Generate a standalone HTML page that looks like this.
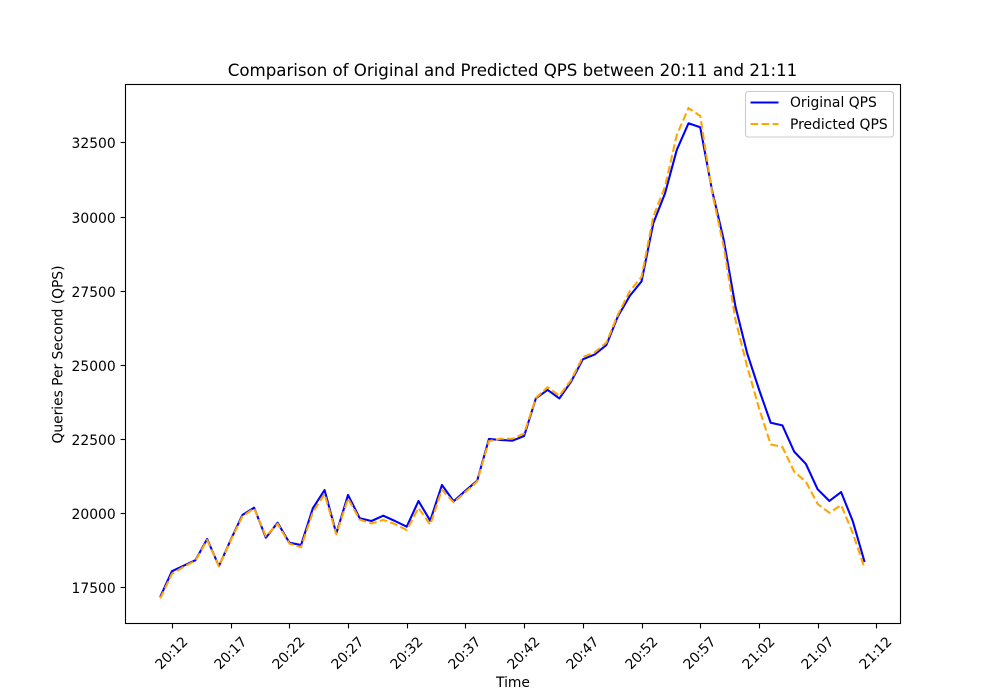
<!DOCTYPE html>
<html>
<head>
<meta charset="utf-8">
<title>Comparison of Original and Predicted QPS</title>
<style>
html,body{margin:0;padding:0;background:#fff;width:1000px;height:700px;overflow:hidden}
svg{display:block}
text{font-family:"DejaVu Sans",sans-serif;fill:#000}
</style>
</head>
<body>
<svg id="chart" xmlns="http://www.w3.org/2000/svg" width="1000" height="700" viewBox="0 0 1000 700">
  <rect x="0" y="0" width="1000" height="700" fill="#fff"/>
  <text x="512.5" y="76" font-size="16.67" text-anchor="middle" textLength="569.5">Comparison of Original and Predicted QPS between 20:11 and 21:11</text>
  <text x="513" y="687" font-size="13.89" text-anchor="middle">Time</text>
  <text x="0" y="0" font-size="13.89" text-anchor="middle" textLength="178" transform="translate(62.5 354.5) rotate(-90)">Queries Per Second (QPS)</text>
  <g id="series"></g>
  <g id="ticks"></g>
  <rect x="125.5" y="84.5" width="775" height="539" fill="none" stroke="#000" stroke-width="1.11"/>
  <g>
    <rect x="745.5" y="91.5" width="148" height="45.5" rx="2.8" fill="#fff" fill-opacity="0.8" stroke="#ccc" stroke-width="1.11"/>
    <line x1="750.5" y1="102.5" x2="778.5" y2="102.5" stroke="#0000ff" stroke-width="2.08"/>
    <text x="790" y="107" font-size="13.89">Original QPS</text>
    <line x1="750.5" y1="124" x2="778.5" y2="124" stroke="#ffa500" stroke-width="2.08" stroke-dasharray="7.7 3.33"/>
    <text x="790" y="129" font-size="13.89">Predicted QPS</text>
  </g>
</svg>
<script>
const minutes = [0,1,2,3,4,5,6,7,8,9,10,11,12,13,14,15,16,17,18,19,20,21,22,23,24,25,26,27,28,29,30,31,32,33,34,35,36,37,38,39,40,41,42,43,44,45,46,47,48,49,50,51,52,53,54,55,56,57,58,59,60];
const originalQps = [17180,18050,18235,18420,19137,18220,19100,19947,20193,19180,19687,19012,18934,20172,20790,19320,20622,19835,19744,19923,19744,19552,20419,19755,20959,20410,20767,21105,22512,22478,22455,22613,23885,24166,23880,24446,25200,25360,25680,26660,27340,27830,29790,30800,32265,33165,33030,30915,29230,26980,25400,24190,23060,22970,22085,21670,20815,20420,20720,19730,18360];
const predictedQps = [17130,17960,18200,18400,19100,18220,19080,19900,20170,19230,19650,18980,18860,20040,20650,19300,20500,19790,19660,19780,19640,19440,20183,19620,20800,20370,20720,21080,22440,22520,22520,22700,23900,24260,23970,24500,25280,25430,25760,26720,27500,27980,30010,31030,32770,33680,33410,30850,29000,26530,24950,23560,22330,22240,21410,21070,20320,20020,20280,19330,18150];
const xTickMinutes = [1,6,11,16,21,26,31,36,41,46,51,56,61];
const xTickLabels = ["20:12","20:17","20:22","20:27","20:32","20:37","20:42","20:47","20:52","20:57","21:02","21:07","21:12"];
const yTickValues = [17500,20000,22500,25000,27500,30000,32500];

const SVG_NS = "http://www.w3.org/2000/svg";
const seriesLayer = document.getElementById("series");
const tickLayer = document.getElementById("ticks");

function xScale(m){ return 160.2 + m * 11.74; }
function yScale(v){ return 587.5 - (v - 17500) * 0.029635; }
function make(tag, attrs){
  const el = document.createElementNS(SVG_NS, tag);
  for (const k in attrs) el.setAttribute(k, attrs[k]);
  return el;
}
function pathFor(values){
  return values.map(function(v, i){
    return (i ? "L" : "M") + xScale(minutes[i]).toFixed(2) + " " + yScale(v).toFixed(2);
  }).join(" ");
}

const originalLine = make("path", {d: pathFor(originalQps), fill: "none", stroke: "#0000ff", "stroke-width": 2.08, "stroke-linejoin": "round"});


seriesLayer.appendChild(originalLine);

const predictedLine = make("path", {d: pathFor(predictedQps), fill: "none", stroke: "#ffa500", "stroke-width": 2.08, "stroke-dasharray": "7.7 3.33", "stroke-linejoin": "round"});


seriesLayer.appendChild(predictedLine);

xTickMinutes.forEach(function(m, i){
  const x = Math.round(xScale(m)) + 0.5;
  const mark = make("line", {x1: x, y1: 623.5, x2: x, y2: 628.4, stroke: "#000", "stroke-width": 1.11});
  
  
  tickLayer.appendChild(mark);
  const label = make("text", {x: 0, y: 0, "font-size": 13.89, "text-anchor": "middle", "dominant-baseline": "central", textLength: 39, transform: "translate(" + (x - 0.5) + " 653.5) rotate(-45)"});
  
  
  label.textContent = xTickLabels[i];
  tickLayer.appendChild(label);
});

yTickValues.forEach(function(v){
  const y = Math.round(yScale(v) - 0.5) + 0.5;
  const mark = make("line", {x1: 120.6, y1: y, x2: 125.5, y2: y, stroke: "#000", "stroke-width": 1.11});
  
  
  tickLayer.appendChild(mark);
  const label = make("text", {x: 115.7, y: y + 5.3, "font-size": 13.89, "text-anchor": "end"});
  
  
  label.textContent = String(v);
  tickLayer.appendChild(label);
});
</script>
</body>
</html>
